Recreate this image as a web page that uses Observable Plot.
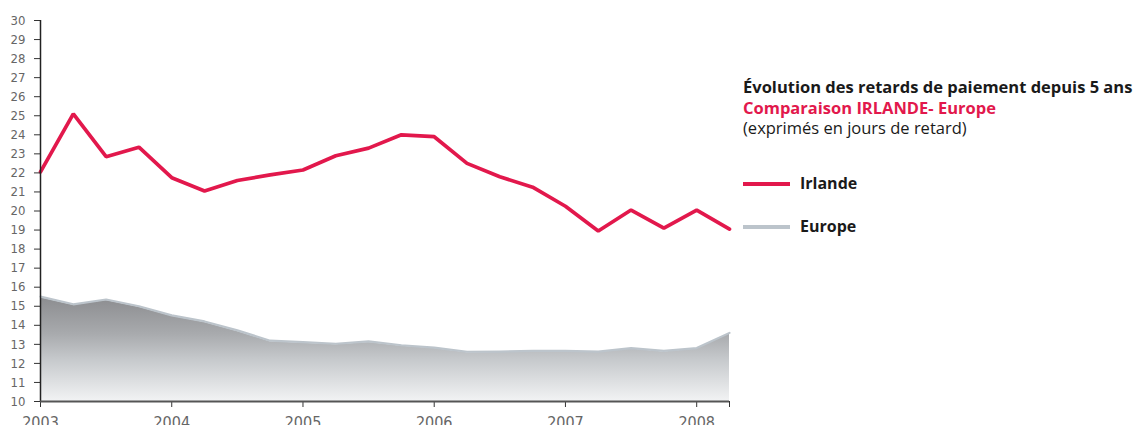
<!DOCTYPE html>
<html>
<head>
<meta charset="utf-8">
<script src="https://cdn.jsdelivr.net/npm/d3@7"></script>
<script src="https://cdn.jsdelivr.net/npm/@observablehq/plot@0.6"></script>
<style>
  body { margin: 0; background: #fff; }
  #wrap { position: relative; width: 1138px; height: 425px; overflow: hidden; }
  #side { position: absolute; left: 743px; top: 0; font-family: "Open Sans", sans-serif; color: #1a1a1a; }
  .ln { position: absolute; left: 0; white-space: nowrap; line-height: 20px; }
  .b { font-weight: 700; }
  .sw { position: absolute; left: 0; width: 47px; height: 4px; }
  .lt { position: absolute; left: 57px; white-space: nowrap; line-height: 20px; font-weight: 700; font-size: 16px; }
</style>
</head>
<body>
<div id="wrap"></div>
<script>
// ---- data ----
const periods = [2003, 2003.25, 2003.5, 2003.75, 2004, 2004.25, 2004.5, 2004.75,
                 2005, 2005.25, 2005.5, 2005.75, 2006, 2006.25, 2006.5, 2006.75,
                 2007, 2007.25, 2007.5, 2007.75, 2008, 2008.25];
const irlande = [22.05, 25.1, 22.85, 23.35, 21.75, 21.05, 21.6, 21.9,
                 22.15, 22.9, 23.3, 24.0, 23.9, 22.5, 21.8, 21.25,
                 20.25, 18.95, 20.05, 19.1, 20.05, 19.05];
const europe  = [15.45, 15.05, 15.3, 14.95, 14.47, 14.15, 13.68, 13.14,
                 13.06, 12.98, 13.1, 12.9, 12.78, 12.56, 12.57, 12.6,
                 12.6, 12.57, 12.75, 12.6, 12.75, 13.55];
const yTicks = [10, 11, 12, 13, 14, 15, 16, 17, 18, 19, 20, 21, 22, 23, 24, 25, 26, 27, 28, 29, 30];
const yearTicks = [2003, 2004, 2005, 2006, 2007, 2008];
const endTick = [2008.25];
const titleLines = ["Évolution des retards de paiement depuis 5 ans", "Comparaison IRLANDE- Europe", "(exprimés en jours de retard)"];
const seriesNames = ["Irlande", "Europe"];
const RED = "#e2184c", EDGE = "#bcc4cb";

const rows = periods.map((p, i) => ({period: p, irlande: irlande[i], europe: europe[i]}));

const gradientDefs = () => {
  const defs = d3.create("svg:defs");
  const g = defs.append("linearGradient").attr("id", "euGrad")
    .attr("x1", 0).attr("y1", 0).attr("x2", 0).attr("y2", 1);
  g.append("stop").attr("offset", "0%").attr("stop-color", "#8c8d90");
  g.append("stop").attr("offset", "35%").attr("stop-color", "#a8aaad");
  g.append("stop").attr("offset", "60%").attr("stop-color", "#c6c9cc");
  g.append("stop").attr("offset", "100%").attr("stop-color", "#f2f3f4");
  return defs.node();
};

const chart = Plot.plot({
  width: 1138,
  height: 425,
  marginLeft: 40,
  marginRight: 409,
  marginTop: 20,
  marginBottom: 24,
  style: { fontFamily: "'Liberation Sans Narrow', 'DejaVu Sans Condensed', sans-serif", background: "#fff" },
  x: { domain: [2003, 2008.25], label: null },
  y: { domain: [10, 30], label: null },
  marks: [
    gradientDefs,
    Plot.areaY(rows, { x: "period", y1: 10, y2: "europe", fill: "url(#euGrad)" }),
    Plot.lineY(rows, { x: "period", y: "europe", stroke: EDGE, strokeWidth: 2.2, dy: -1 }),
    Plot.lineY(rows, { x: "period", y: "irlande", stroke: RED, strokeWidth: 3.7, strokeLinejoin: "miter" }),
    Plot.axisY({ ticks: yTicks, tickSize: 6, tickPadding: 9, fontSize: 13, stroke: "#333", fill: "#666", tickFormat: d => String(d) }),
    Plot.axisX({ ticks: yearTicks, tickSize: 6, tickPadding: 9, fontSize: 16, stroke: "#333", fill: "#666", tickFormat: d => String(d) }),
    Plot.axisX({ ticks: endTick, tickSize: 6, stroke: "#333", tickFormat: () => "" }),
    Plot.ruleX([2003], { stroke: "#222", strokeWidth: 1.5 }),
    Plot.ruleY([10], { stroke: "#555", strokeWidth: 2 })
  ]
});

const wrap = document.getElementById("wrap");
wrap.appendChild(chart);

// ---- title & legend (right side) ----
const side = document.createElement("div");
side.id = "side";
const lineSpecs = [
  { top: 77, size: 16.5, bold: true, color: "#1a1a1a" },
  { top: 97.8, size: 16.5, bold: true, color: RED },
  { top: 118, size: 16.5, bold: false, color: "#1a1a1a" }
];
titleLines.forEach((t, i) => {
  const d = document.createElement("div");
  d.className = "ln" + (lineSpecs[i].bold ? " b" : "");
  d.style.top = lineSpecs[i].top + "px";
  d.style.fontSize = lineSpecs[i].size + "px";
  d.style.lineHeight = "20px";
  d.style.height = "20px";
  d.style.color = lineSpecs[i].color;
  d.textContent = t;
  side.appendChild(d);
});
const legendColors = [RED, EDGE];
const legendTops = [173, 215.5];
seriesNames.forEach((n, i) => {
  const sw = document.createElement("div");
  sw.className = "sw";
  sw.style.top = (legendTops[i] + 9) + "px";
  sw.style.background = legendColors[i];
  side.appendChild(sw);
  const lt = document.createElement("div");
  lt.className = "lt";
  lt.style.top = legendTops[i] + "px";
  lt.textContent = n;
  side.appendChild(lt);
});
wrap.appendChild(side);
</script>
</body>
</html>
